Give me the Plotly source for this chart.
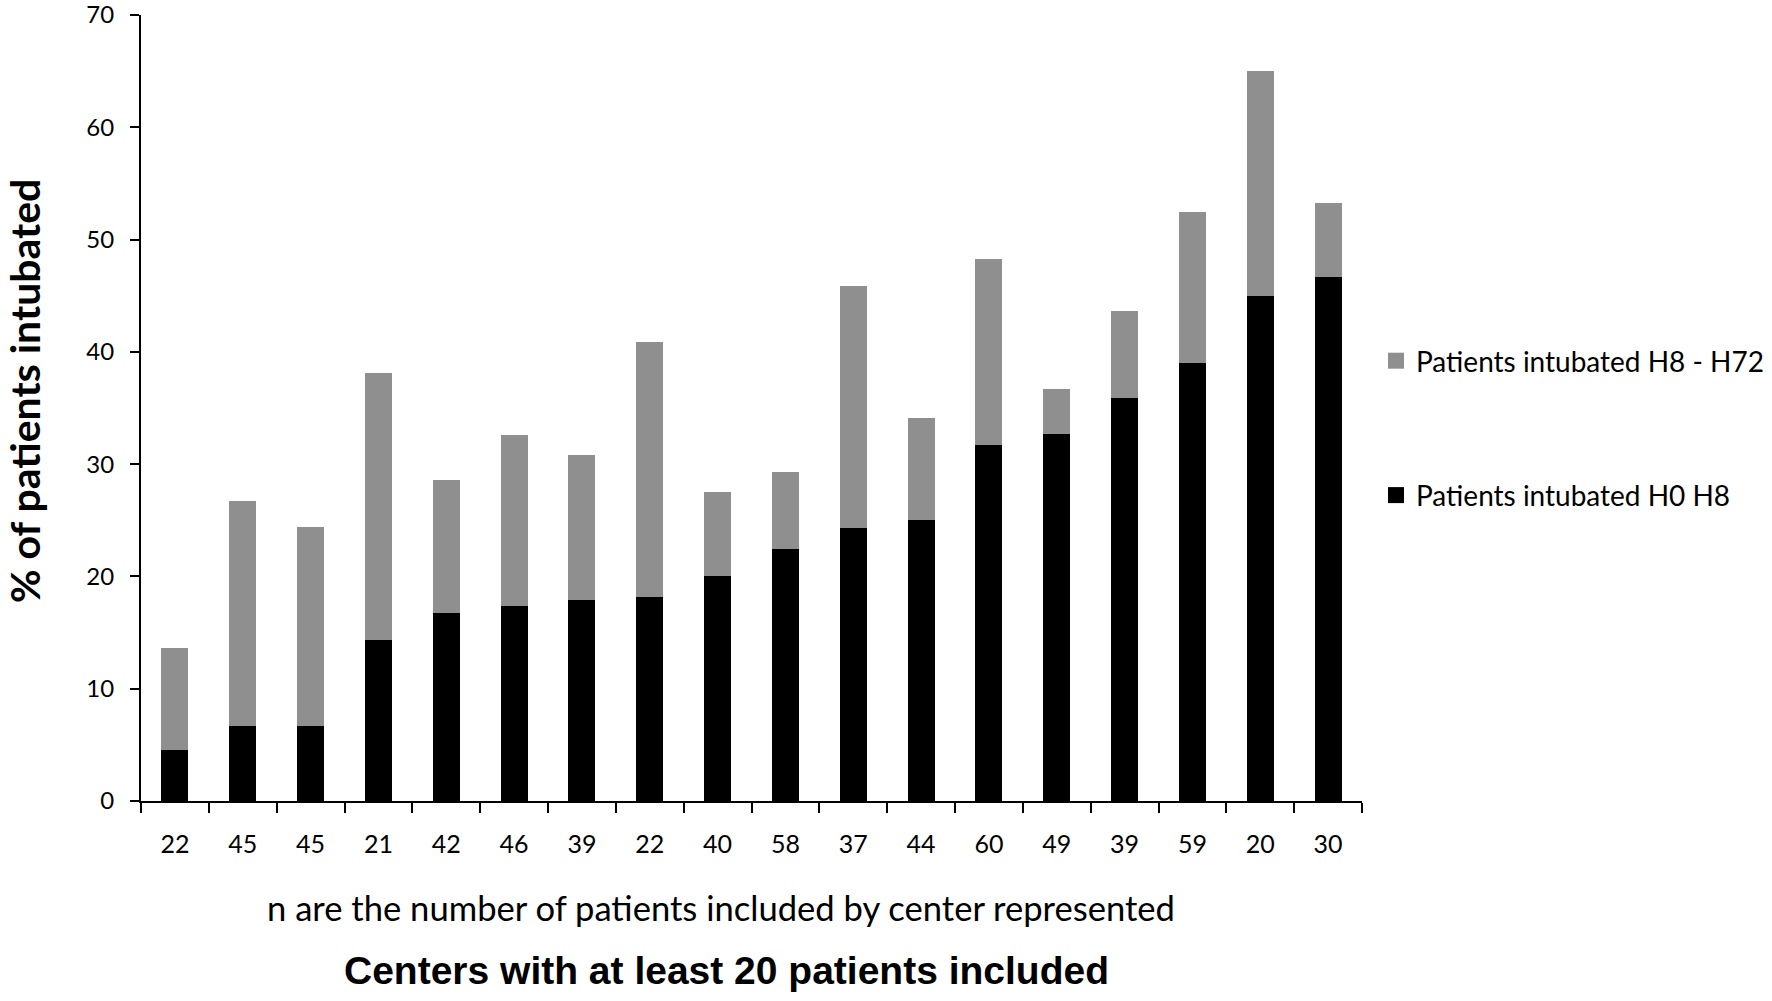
"""Stacked bar chart: share of patients intubated per center."""

import plotly.graph_objects as go

# patients included by each center (x tick labels)
center_sizes = ["22", "45", "45", "21", "42", "46", "39", "22", "40",
                "58", "37", "44", "60", "49", "39", "59", "20", "30"]

# % intubated between H0 and H8 (black part)
early_pct = [4.5, 6.7, 6.7, 14.3, 16.7, 17.4, 17.9, 18.2, 20.0,
             22.4, 24.3, 25.0, 31.7, 32.7, 35.9, 39.0, 45.0, 46.7]

# % intubated by H72 in total (top of the bar)
total_pct = [13.6, 26.7, 24.4, 38.1, 28.6, 32.6, 30.8, 40.9, 27.5,
             29.3, 45.9, 34.1, 48.3, 36.7, 43.6, 52.5, 65.0, 53.3]

late_pct = [round(t - e, 1) for t, e in zip(total_pct, early_pct)]

y_ticks = [0, 10, 20, 30, 40, 50, 60, 70]

WIDTH, HEIGHT = 1772, 1001
PLOT_LEFT, PLOT_RIGHT = 141, 1362
PLOT_TOP, PLOT_BOTTOM = 15, 801
MARGIN = dict(
    l=PLOT_LEFT,
    r=WIDTH - PLOT_RIGHT,
    t=PLOT_TOP,
    b=HEIGHT - PLOT_BOTTOM,
)
PLOT_W = PLOT_RIGHT - PLOT_LEFT
PLOT_H = PLOT_BOTTOM - PLOT_TOP

BLACK = "#000000"
GREY = "#8f8f8f"
BODY_FONT = "Lato"

EARLY_NAME = "Patients intubated H0 H8"
LATE_NAME = "Patients intubated H8 - H72"


def px_x(px: float) -> float:
    """Screen pixel x -> paper coordinate."""
    return (px - PLOT_LEFT) / PLOT_W


def px_y(px: float) -> float:
    """Screen pixel y (from top) -> paper coordinate."""
    return (PLOT_BOTTOM - px) / PLOT_H


positions = list(range(len(center_sizes)))
boundaries = [p - 0.5 for p in positions] + [positions[-1] + 0.5]

fig = go.Figure()
fig.add_trace(
    go.Bar(x=positions, y=early_pct, name=EARLY_NAME,
           marker=dict(color=BLACK, line=dict(width=0)), showlegend=False)
)
fig.add_trace(
    go.Bar(x=positions, y=late_pct, name=LATE_NAME,
           marker=dict(color=GREY, line=dict(width=0)), showlegend=False)
)

# legend entries with larger square swatches, like the original
for name, color, rank in ((LATE_NAME, GREY, 1), (EARLY_NAME, BLACK, 2)):
    fig.add_trace(
        go.Scatter(
            x=[None], y=[None], mode="markers", name=name,
            marker=dict(symbol="square", size=17, color=color),
            legendgroup=name, legendrank=rank, hoverinfo="skip",
        )
    )

fig.update_xaxes(
    range=[boundaries[0], boundaries[-1]],
    tickmode="array",
    tickvals=positions,
    ticktext=center_sizes,
    ticks="",
    ticklabelstandoff=20,
    minor=dict(
        tickmode="array",
        tickvals=boundaries,
        ticks="outside",
        ticklen=10,
        tickwidth=2,
        tickcolor=BLACK,
    ),
    showline=True,
    linecolor=BLACK,
    linewidth=2,
    showgrid=False,
    zeroline=False,
    tickfont=dict(family=BODY_FONT, size=25, color=BLACK),
)
fig.update_yaxes(
    range=[0, 70],
    tickmode="array",
    tickvals=y_ticks,
    ticks="outside",
    ticklen=9,
    tickwidth=2,
    tickcolor=BLACK,
    ticklabelstandoff=11,
    ticklabeloverflow="allow",
    showline=True,
    linecolor=BLACK,
    linewidth=2,
    showgrid=False,
    zeroline=False,
    automargin=False,
    tickfont=dict(family=BODY_FONT, size=24, color=BLACK),
)

fig.add_annotation(
    text="% of patients intubated",
    xref="paper", yref="paper",
    x=px_x(25), y=px_y(391),
    xanchor="center", yanchor="middle",
    textangle=-90,
    showarrow=False,
    font=dict(family=BODY_FONT, size=41, color=BLACK, weight="bold"),
)
fig.add_annotation(
    text="n are the number of patients included by center represented",
    xref="paper", yref="paper",
    x=px_x(721), y=px_y(907),
    xanchor="center", yanchor="middle",
    showarrow=False,
    font=dict(family=BODY_FONT, size=34.6, color=BLACK),
)
fig.add_annotation(
    text="Centers with at least 20 patients included",
    xref="paper", yref="paper",
    x=px_x(726), y=px_y(970),
    xanchor="center", yanchor="middle",
    showarrow=False,
    font=dict(family="Liberation Sans", size=39, color=BLACK, weight="bold"),
)

fig.update_layout(
    width=WIDTH,
    height=HEIGHT,
    margin=MARGIN,
    barmode="stack",
    bargap=0.6,
    plot_bgcolor="#ffffff",
    paper_bgcolor="#ffffff",
    showlegend=True,
    legend=dict(
        xref="container", yref="container",
        x=1376 / WIDTH, y=1 - 336 / HEIGHT,
        xanchor="left", yanchor="top",
        traceorder="grouped",
        tracegroupgap=95,
        font=dict(family=BODY_FONT, size=28, color=BLACK),
        bgcolor="rgba(0,0,0,0)",
    ),
)

# drop the default 8px body margin so the figure fills the window exactly
fig.write_html(
    "out.html",
    config={"displayModeBar": False},
    post_script="document.body.style.margin = '0';",
)
